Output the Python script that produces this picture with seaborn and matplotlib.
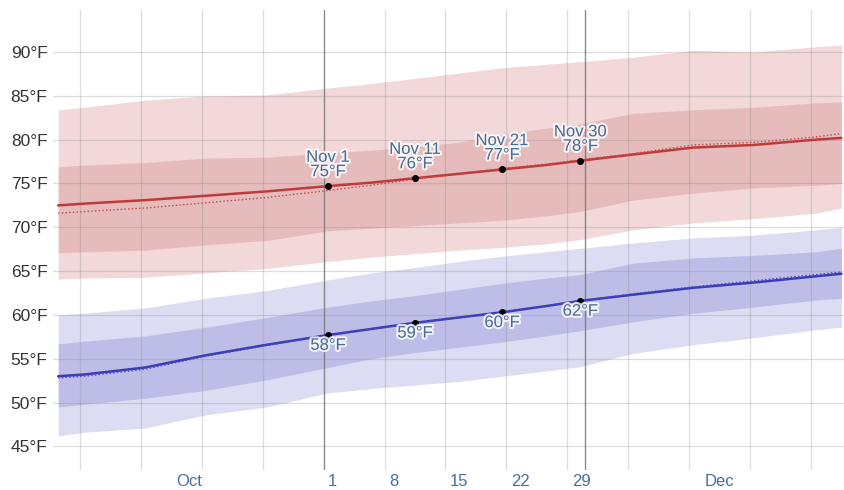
import numpy as np
import pandas as pd
import matplotlib
matplotlib.use("Agg")
import matplotlib.pyplot as plt
import matplotlib.patheffects as pe
import seaborn as sns

# day offsets from Nov 1 (0 = Nov 1, -31 = Oct 1, 59 = Dec 30)
days = [-31, -28, -21, -14, -7, 0, 5, 10, 15, 20, 25, 29, 35, 42, 49, 56, 59]

# daily high temperature (F): median line, mean (dotted), 25-75 and 10-90 bands
high_line = [72.5, 72.7, 73.1, 73.6, 74.1, 74.7, 75.1, 75.6, 76.1, 76.6, 77.1, 77.6, 78.3, 79.1, 79.4, 80.0, 80.2]
high_mean = [71.6, 71.8, 72.2, 72.8, 73.4, 74.2, 74.8, 75.5, 76.1, 76.7, 77.2, 77.7, 78.4, 79.4, 79.7, 80.3, 80.7]
high_p75 = [76.9, 77.1, 77.4, 77.9, 78.0, 78.5, 78.8, 79.2, 79.7, 80.6, 81.3, 81.8, 83.0, 83.4, 83.7, 84.2, 84.3]
high_p25 = [67.1, 67.2, 67.4, 68.0, 68.5, 69.6, 69.9, 70.2, 70.5, 70.8, 71.3, 71.8, 73.1, 73.9, 74.5, 74.8, 75.0]
high_p90 = [83.4, 83.7, 84.5, 85.0, 85.1, 85.9, 86.4, 87.0, 87.6, 88.2, 88.6, 88.9, 89.4, 90.2, 90.0, 90.6, 90.8]
high_p10 = [64.1, 64.2, 64.3, 64.8, 65.3, 66.1, 66.6, 67.0, 67.4, 67.7, 68.1, 68.6, 69.7, 70.5, 71.0, 71.6, 72.2]

# daily low temperature (F)
low_line = [53.0, 53.2, 54.0, 55.4, 56.6, 57.7, 58.4, 59.1, 59.7, 60.3, 61.0, 61.6, 62.3, 63.1, 63.7, 64.4, 64.7]
low_mean = [52.8, 53.0, 53.8, 55.3, 56.5, 57.7, 58.4, 59.1, 59.7, 60.3, 61.0, 61.6, 62.4, 63.2, 63.9, 64.6, 64.9]
low_p75 = [56.7, 57.0, 57.6, 58.6, 59.7, 60.9, 61.6, 62.2, 62.9, 63.6, 64.2, 64.6, 65.9, 66.5, 66.8, 67.2, 67.6]
low_p25 = [49.5, 49.8, 50.5, 51.4, 52.6, 54.0, 55.0, 55.7, 56.3, 56.9, 57.6, 58.2, 59.2, 60.2, 60.9, 61.7, 61.9]
low_p90 = [60.0, 60.2, 60.8, 61.9, 62.8, 64.0, 64.8, 65.4, 66.1, 66.7, 67.2, 67.6, 68.2, 68.8, 69.1, 69.7, 70.0]
low_p10 = [46.2, 46.6, 47.1, 48.6, 49.5, 51.1, 51.6, 52.0, 52.4, 53.0, 53.6, 54.1, 55.6, 56.6, 57.4, 58.3, 58.6]

ann_days = [0, 10, 20, 29]
ann_names = ["Nov 1", "Nov 11", "Nov 21", "Nov 30"]

yticks = [45, 50, 55, 60, 65, 70, 75, 80, 85, 90]
week_lines = [-28.5, -21.5, -14.5, -7.5, 6.5, 13.5, 20.5, 27.5, 34.5, 41.5, 48.5, 55.5]
month_lines = [-0.5, 29.5]
xtick_pos = [-16, 0, 7, 14, 21, 28, 45]
xtick_lab = ["Oct", "1", "8", "15", "22", "29", "Dec"]

df = pd.DataFrame({"day": days, "high": high_line, "high_mean": high_mean,
                   "low": low_line, "low_mean": low_mean})

sns.set_style("white")
plt.rcParams["font.family"] = ["Liberation Sans", "DejaVu Sans"]

fig = plt.figure(figsize=(8.44, 4.9), dpi=100)
ax = fig.add_axes([53 / 844, 20 / 490, 791 / 844, 460 / 490])

# bands
ax.fill_between(days, high_p10, high_p90, color="#f2d8d8", lw=0, zorder=1)
ax.fill_between(days, high_p25, high_p75, color="#e6bbbb", lw=0, zorder=1.1)
ax.fill_between(days, low_p10, low_p90, color="#dcdcf2", lw=0, zorder=1)
ax.fill_between(days, low_p25, low_p75, color="#bdbde8", lw=0, zorder=1.1)

# grid
for y in yticks:
    ax.axhline(y, color="#888888", alpha=0.28, lw=0.9, zorder=2)
for x in week_lines:
    ax.axvline(x, color="#888888", alpha=0.28, lw=0.9, zorder=2)
for x in month_lines:
    ax.axvline(x, color="#777777", alpha=0.85, lw=1.0, zorder=2)

# lines
sns.lineplot(data=df, x="day", y="high", color="#bf3b3b", lw=1.8, ax=ax, zorder=3)
sns.lineplot(data=df, x="day", y="high_mean", color="#cc4444", lw=1.0, ls=":", ax=ax, zorder=3)
sns.lineplot(data=df, x="day", y="low", color="#3c3cb4", lw=1.8, ax=ax, zorder=3)
sns.lineplot(data=df, x="day", y="low_mean", color="#4848c0", lw=1.0, ls=":", ax=ax, zorder=3)

# annotated points
halo = [pe.withStroke(linewidth=3, foreground="white", alpha=0.8)]
txt_color = "#4a6d94"
for d, name in zip(ann_days, ann_names):
    i = days.index(d)
    hv = high_line[i]
    lv = low_line[i]
    ax.scatter([d, d], [hv, lv], s=16, color="black", zorder=5)
    ax.annotate(f"{name}\n{round(hv)}°F", (d, hv), xytext=(0, 5), textcoords="offset points",
                ha="center", va="bottom", fontsize=12, color=txt_color,
                linespacing=0.95, path_effects=halo, zorder=6)
    ax.annotate(f"{round(lv)}°F", (d, lv), xytext=(0, -2), textcoords="offset points",
                ha="center", va="top", fontsize=12, color=txt_color,
                path_effects=halo, zorder=6)

ax.set_xlim(-31.6, 59.3)
ax.set_ylim(42.3, 94.8)
ax.set_yticks(yticks)
ax.set_yticklabels([f"{t}°F" for t in yticks])
ax.set_xticks(xtick_pos)
ax.set_xticklabels(xtick_lab)
for lbl, text in zip(ax.get_xticklabels(), xtick_lab):
    lbl.set_ha("center" if text in ("Oct", "Dec") else "left")
ax.tick_params(axis="y", length=0, pad=4, labelsize=12.5, labelcolor="#333333")
ax.tick_params(axis="x", length=0, pad=3, labelsize=12, labelcolor="#46709a")
ax.set_xlabel("")
ax.set_ylabel("")
for s in ax.spines.values():
    s.set_visible(False)

plt.savefig("out.png", dpi=100)
